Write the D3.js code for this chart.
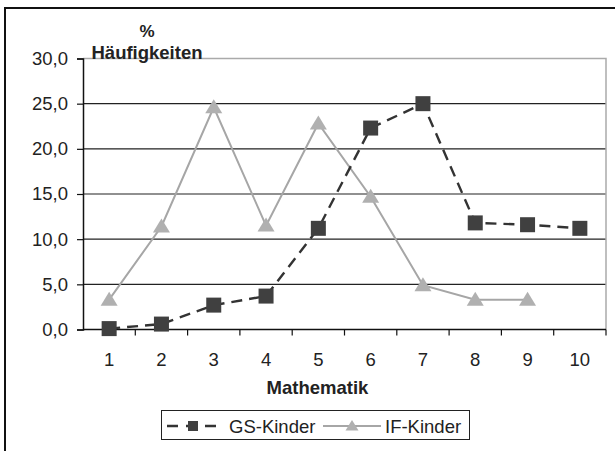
<!DOCTYPE html>
<meta charset="utf-8">
<head>
    <style>
        body {margin: 0; background: #fff;}
        text {font-family: "Liberation Sans", Arial, sans-serif; fill: #222;}
        .grid line {stroke: #222; stroke-width: 1.2;}
        .bold {font-weight: bold;}
    </style>
    <script src="https://d3js.org/d3.v7.min.js"></script>
</head>
<body>
<script>

    var categories = ["1","2","3","4","5","6","7","8","9","10"],
        gsValues = [0.1, 0.6, 2.7, 3.7, 11.2, 22.3, 25.0, 11.8, 11.6, 11.2],
        ifValues = [3.3, 11.4, 24.6, 11.5, 22.8, 14.7, 4.9, 3.3, 3.3, null],
        yTicks = [0, 5, 10, 15, 20, 25, 30],
        seriesNames = ["GS-Kinder", "IF-Kinder"];

    var W = 615, H = 451,
        plot = {left: 83, right: 606, top: 58.5, bottom: 329.5};

    var svg = d3.select("body").append("svg")
        .attr("width", W)
        .attr("height", H);

    // outer frame (runs off the right and bottom edge)
    svg.append("rect")
        .attr("x", 5).attr("y", 8)
        .attr("width", W + 20).attr("height", H + 20)
        .attr("fill", "none").attr("stroke", "#111").attr("stroke-width", 2);

    var x = d3.scaleBand()
        .domain(categories)
        .range([plot.left, plot.right]);

    var y = d3.scaleLinear()
        .domain([0, 30])
        .range([plot.bottom, plot.top]);

    // gridlines
    svg.append("g").attr("class", "grid")
        .selectAll("line")
        .data(yTicks.filter(function(d) {return d > 0 && d < 30}))
      .enter().append("line")
        .attr("x1", plot.left).attr("x2", plot.right)
        .attr("y1", function(d) {return y(d)})
        .attr("y2", function(d) {return y(d)});

    // plot area top + right border (gray)
    svg.append("path")
        .attr("d", "M" + plot.left + "," + y(30) + "H" + plot.right + "V" + plot.bottom)
        .attr("fill", "none").attr("stroke", "#aaa").attr("stroke-width", 1.5);

    // y axis
    var yAxis = svg.append("g")
        .attr("transform", "translate(" + plot.left + ",0)")
        .call(d3.axisLeft(y).tickValues(yTicks).tickSize(6).tickPadding(9)
            .tickFormat(function(d) {return d3.format(".1f")(d).replace(".", ",")}));
    yAxis.select(".domain").attr("stroke", "#111").attr("stroke-width", 1.5);
    yAxis.selectAll(".tick line").attr("stroke", "#111").attr("stroke-width", 1.2);
    yAxis.selectAll(".tick text")
        .attr("font-size", 18.5).attr("font-family", "Liberation Sans, Arial").attr("fill", "#222");

    // x axis: ticks on category boundaries
    var xAxis = svg.append("g")
        .attr("transform", "translate(0," + plot.bottom + ")");
    xAxis.append("line")
        .attr("x1", plot.left).attr("x2", plot.right)
        .attr("stroke", "#111").attr("stroke-width", 1.5);
    xAxis.selectAll(".bnd")
        .data(categories)
      .enter().append("line")
        .attr("x1", function(d) {return x(d) + x.bandwidth()})
        .attr("x2", function(d) {return x(d) + x.bandwidth()})
        .attr("y1", 0).attr("y2", 6)
        .attr("stroke", "#111").attr("stroke-width", 1.2);
    xAxis.selectAll(".lbl")
        .data(categories)
      .enter().append("text")
        .attr("x", function(d) {return x(d) + x.bandwidth() / 2})
        .attr("y", 36)
        .attr("text-anchor", "middle")
        .attr("font-size", 18.5)
        .text(function(d) {return d});

    // titles
    svg.append("text").attr("class", "bold")
        .attr("x", (plot.left + plot.right) / 2 - 27).attr("y", 394)
        .attr("text-anchor", "middle").attr("font-size", 18.5)
        .text("Mathematik");
    svg.append("text").attr("class", "bold")
        .attr("x", 147).attr("y", 37)
        .attr("text-anchor", "middle").attr("font-size", 17)
        .text("%");
    svg.append("text").attr("class", "bold")
        .attr("x", 147).attr("y", 59)
        .attr("text-anchor", "middle").attr("font-size", 18.5)
        .text("Häufigkeiten");

    var cx = function(d, i) {return x(categories[i]) + x.bandwidth() / 2};

    // IF-Kinder line + triangles
    var ifPts = ifValues.map(function(v, i) {return {v: v, i: i}}).filter(function(d) {return d.v != null});
    svg.append("path")
        .datum(ifPts)
        .attr("fill", "none").attr("stroke", "#a6a6a6").attr("stroke-width", 2)
        .attr("d", d3.line()
            .x(function(d) {return cx(null, d.i)})
            .y(function(d) {return y(d.v)}));

    var tri = "M0,-8L8.5,6L-8.5,6Z";
    svg.selectAll(".tri")
        .data(ifPts)
      .enter().append("path")
        .attr("d", tri)
        .attr("transform", function(d) {return "translate(" + cx(null, d.i) + "," + y(d.v) + ")"})
        .attr("fill", "#b0b0b0");

    // GS-Kinder dashed line + squares
    svg.append("path")
        .datum(gsValues)
        .attr("fill", "none").attr("stroke", "#333").attr("stroke-width", 2.4)
        .attr("stroke-dasharray", "11,7")
        .attr("d", d3.line()
            .x(function(d, i) {return cx(d, i)})
            .y(function(d) {return y(d)}));

    svg.selectAll(".sq")
        .data(gsValues)
      .enter().append("rect")
        .attr("x", function(d, i) {return cx(d, i) - 7.5})
        .attr("y", function(d) {return y(d) - 7.5})
        .attr("width", 15).attr("height", 15)
        .attr("fill", "#404040");

    // legend
    var lg = svg.append("g");
    lg.append("rect")
        .attr("x", 161.5).attr("y", 410.5).attr("width", 308).attr("height", 29)
        .attr("fill", "#fff").attr("stroke", "#222").attr("stroke-width", 1);
    var ly = 426;
    lg.append("line")
        .attr("x1", 167).attr("x2", 217).attr("y1", ly).attr("y2", ly)
        .attr("stroke", "#333").attr("stroke-width", 2.4).attr("stroke-dasharray", "11,8");
    lg.append("rect")
        .attr("x", 188).attr("y", ly - 5).attr("width", 10).attr("height", 10)
        .attr("fill", "#404040");
    lg.append("text")
        .attr("x", 229).attr("y", ly + 6.5).attr("font-size", 18.5)
        .text(seriesNames[0]);
    lg.append("line")
        .attr("x1", 323).attr("x2", 381).attr("y1", ly).attr("y2", ly)
        .attr("stroke", "#a6a6a6").attr("stroke-width", 2);
    lg.append("path")
        .attr("d", "M0,-6L6.5,4.5L-6.5,4.5Z")
        .attr("transform", "translate(352," + ly + ")")
        .attr("fill", "#b0b0b0");
    lg.append("text")
        .attr("x", 385).attr("y", ly + 6.5).attr("font-size", 18.5)
        .text(seriesNames[1]);

</script>
</body>
